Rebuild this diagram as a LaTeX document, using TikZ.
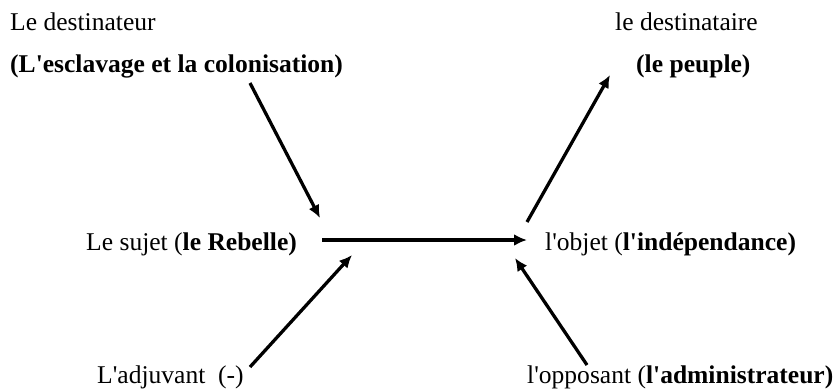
\documentclass[tikz,border=0pt]{standalone}
\usepackage{fontspec}
\setmainfont{Liberation Serif}[Ligatures=TeXOff]
\usetikzlibrary{arrows.meta}

\begin{document}
\begin{tikzpicture}[x=0.03cm, y=-0.03cm,
  lbl/.style={anchor=base west, inner sep=0pt, font=\fontsize{21.8}{26}\selectfont},
  arr/.style={line width=2.8pt, -{Latex[length=11pt,width=10pt]}}]
\useasboundingbox (0,0) rectangle (836,388);

% top row
\node [lbl] (destinateur) at (10,30) {Le destinateur};
\node [lbl] (destinateurb) at (10,72) {\textbf{(L'esclavage et la colonisation)}};
\node [lbl] (destinataire) at (615,30) {le destinataire};
\node [lbl] (destinataireb) at (636,72) {\textbf{(le peuple)}};

% middle row
\node [lbl] (sujet) at (86,250) {Le sujet (\textbf{le Rebelle)}};
\node [lbl] (objet) at (545,250) {l'objet (\textbf{l'indépendance)}};

% bottom row
\node [lbl] (adjuvant) at (97,383) {L'adjuvant~~(-)};
\node [lbl] (opposant) at (527,383) {l'opposant (\textbf{l'administrateur)}};

\coordinate (dA) at (250,83);   \coordinate (dB) at (320,218);
\coordinate (sA) at (322,240);  \coordinate (sB) at (527,240);
\coordinate (pA) at (527,222);  \coordinate (pB) at (610,75);
\coordinate (jA) at (250,367);  \coordinate (jB) at (352,255);
\coordinate (oA) at (587,365);  \coordinate (oB) at (515,258);

\draw [arr] (dA) -- (dB);
\draw [arr] (sA) -- (sB);
\draw [arr] (pA) -- (pB);
\draw [arr] (jA) -- (jB);
\draw [arr] (oA) -- (oB);

\end{tikzpicture}
\end{document}
